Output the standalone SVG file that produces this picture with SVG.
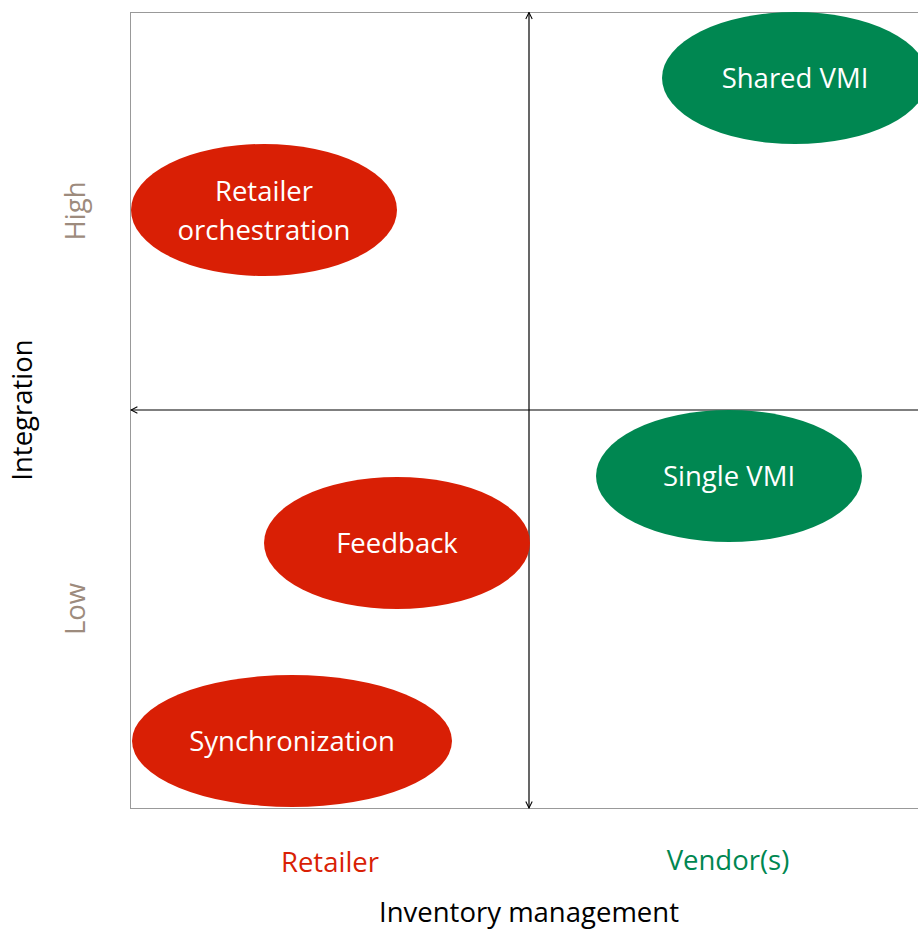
<svg xmlns="http://www.w3.org/2000/svg" width="918" height="929" viewBox="0 0 918 929">
<style>
text{font-family:"Open Sans","Liberation Sans",sans-serif;font-size:27.5px;text-anchor:middle}
.w{fill:#fff}
.red{fill:#D91F05}
.grn{fill:#008751}
.gray{fill:#9D8B7D}
.ax{stroke:#000;stroke-width:1.2;fill:none}
</style>
<defs>
<marker id="ah" viewBox="0 0 10 10" refX="9" refY="5" markerWidth="8" markerHeight="8" orient="auto-start-reverse" markerUnits="userSpaceOnUse">
<path d="M1,1 L9,5 L1,9" fill="none" stroke="#000" stroke-width="1.3"/>
</marker>
</defs>
<rect x="0" y="0" width="918" height="929" fill="#fff"/>
<rect x="130.5" y="12.5" width="800" height="796" fill="none" stroke="#999" stroke-width="1"/>
<g id="connectors">
<line class="ax" x1="529" y1="12.5" x2="529" y2="808" marker-start="url(#ah)" marker-end="url(#ah)"/>
<line class="ax" x1="918" y1="410" x2="131" y2="410" marker-end="url(#ah)"/>
</g>
<g id="shared-vmi"><ellipse class="grn" cx="795" cy="78" rx="133" ry="66"/><text class="w" x="795" y="88">Shared VMI</text></g>
<g id="retailer-orchestration"><ellipse class="red" cx="264" cy="210" rx="133" ry="66"/><text class="w" x="264" y="201">Retailer</text><text class="w" x="264" y="240">orchestration</text></g>
<g id="single-vmi"><ellipse class="grn" cx="729" cy="476" rx="133" ry="66"/><text class="w" x="729" y="486">Single VMI</text></g>
<g id="feedback"><ellipse class="red" cx="397" cy="543" rx="133" ry="66"/><text class="w" x="397" y="553">Feedback</text></g>
<g id="synchronization"><ellipse class="red" cx="292" cy="741" rx="160" ry="66"/><text class="w" x="292" y="751">Synchronization</text></g>
<g id="labels">
<text class="red" x="330" y="872">Retailer</text>
<text class="grn" x="728" y="870">Vendor(s)</text>
<text x="529" y="922">Inventory management</text>
<text transform="translate(32,410) rotate(-90)">Integration</text>
<text class="gray" transform="translate(85,211) rotate(-90)">High</text>
<text class="gray" transform="translate(85,609) rotate(-90)">Low</text>
</g>
</svg>
